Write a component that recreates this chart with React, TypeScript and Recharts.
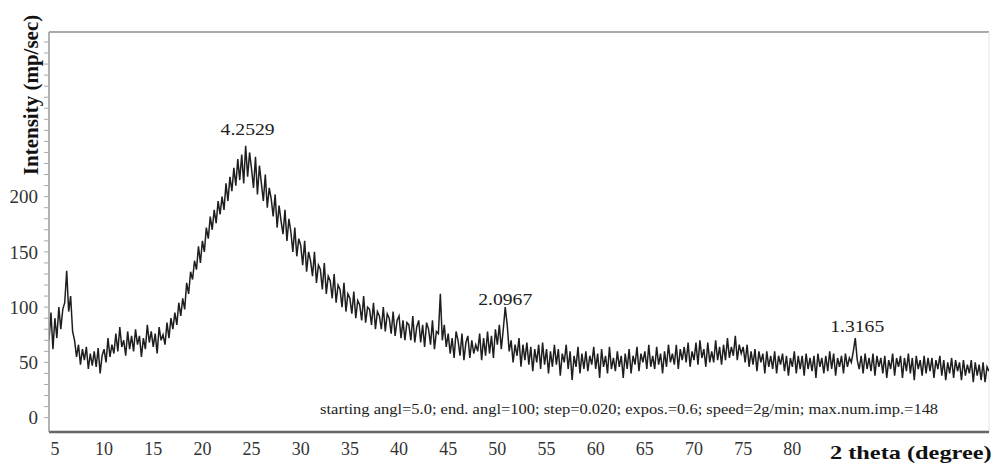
import React from 'react';
import { LineChart, Line, XAxis, YAxis, ReferenceLine, ReferenceDot } from 'recharts';

// 2-theta grid of the readings (degrees)
const startAngle = 4.4;
const stepAngle = 0.2;

// intensity (mp/sec), 5 readings per degree
const intensity: number[] = [
  // 4.4 – 4.8
  70, 95, 62,
  // 5 – 9.8
  90, 72, 100, 80, 98,
  104, 133, 96, 110, 78,
  70, 55, 66, 48, 62,
  52, 64, 44, 58, 47,
  60, 46, 63, 40, 56,
  // 10 – 14.8
  62, 50, 72, 55, 66,
  58, 76, 60, 82, 64,
  70, 56, 78, 62, 74,
  60, 80, 66, 74, 55,
  72, 62, 84, 68, 78,
  // 15 – 19.8
  64, 76, 58, 82, 70,
  75, 66, 86, 72, 90,
  80, 95, 84, 104, 92,
  108, 98, 122, 112, 132,
  125, 142, 134, 155, 140,
  // 20 – 24.8
  160, 150, 172, 162, 182,
  170, 188, 176, 196, 184,
  200, 188, 212, 196, 218,
  205, 226, 210, 234, 215,
  238, 212, 246, 218, 240,
  // 25 – 29.8
  225, 208, 236, 202, 228,
  212, 196, 220, 190, 208,
  198, 182, 202, 172, 192,
  178, 166, 188, 160, 180,
  168, 150, 172, 146, 162,
  // 30 – 34.8
  156, 138, 160, 132, 150,
  142, 128, 150, 122, 138,
  134, 116, 140, 112, 128,
  124, 108, 130, 104, 120,
  116, 100, 122, 96, 112,
  // 35 – 39.8
  108, 94, 114, 90, 106,
  102, 88, 110, 86, 100,
  98, 84, 104, 80, 96,
  92, 80, 100, 78, 94,
  90, 76, 96, 74, 88,
  // 40 – 44.8
  92, 72, 88, 70, 86,
  84, 70, 92, 68, 82,
  88, 68, 84, 64, 86,
  80, 66, 88, 62, 78,
  76, 112, 70, 84, 64,
  // 45 – 49.8
  76, 58, 72, 54, 78,
  70, 56, 76, 52, 68,
  74, 54, 70, 58, 66,
  60, 76, 52, 72, 56,
  78, 58, 74, 54, 80,
  // 50 – 54.8
  66, 84, 62, 80, 100,
  84, 60, 70, 50, 66,
  56, 72, 46, 66, 52,
  68, 48, 64, 42, 62,
  50, 66, 44, 68, 48,
  // 55 – 59.8
  62, 40, 60, 46, 66,
  48, 62, 38, 58, 50,
  66, 44, 60, 34, 56,
  46, 64, 40, 58, 44,
  60, 42, 56, 48, 64,
  // 60 – 64.8
  44, 58, 36, 62, 46,
  56, 40, 64, 44, 54,
  42, 60, 46, 56, 36,
  58, 44, 62, 40, 56,
  48, 64, 42, 58, 50,
  // 65 – 69.8
  60, 44, 66, 46, 56,
  44, 64, 48, 58, 40,
  60, 46, 66, 50, 58,
  48, 66, 44, 62, 52,
  64, 50, 68, 46, 60,
  // 70 – 74.8
  52, 68, 48, 70, 54,
  62, 46, 68, 50, 60,
  50, 70, 52, 64, 48,
  66, 52, 72, 54, 64,
  56, 74, 52, 66, 58,
  // 75 – 79.8
  64, 50, 66, 46, 60,
  48, 62, 42, 60, 50,
  58, 40, 60, 46, 56,
  44, 60, 40, 56, 48,
  58, 42, 56, 38, 54,
  // 80 – 84.8
  46, 60, 40, 56, 44,
  56, 38, 58, 44, 54,
  42, 56, 36, 58, 46,
  54, 40, 56, 42, 60,
  44, 58, 38, 54, 46,
  // 85 – 89.8
  56, 40, 58, 46, 54,
  50, 60, 72, 52, 44,
  56, 40, 58, 44, 54,
  42, 58, 38, 56, 46,
  54, 40, 56, 36, 52,
  // 90 – 94.8
  44, 58, 38, 54, 46,
  56, 36, 54, 42, 58,
  40, 54, 34, 56, 44,
  52, 38, 56, 40, 54,
  42, 54, 36, 52, 44,
  // 95 – 100
  56, 38, 52, 34, 50,
  40, 54, 36, 52, 42,
  50, 34, 52, 38, 48,
  40, 52, 32, 50, 38,
  48, 34, 50, 32, 46,
  42,
];

const xTicks = [5, 10, 15, 20, 25, 30, 35, 40, 45, 50, 55, 60, 65, 70, 75, 80];
const yLabels = [0, 50, 100, 150, 200];
const yMinorTicks = [0, 10, 20, 30, 40, 50, 60, 70, 80, 90, 100, 110, 120, 130, 140, 150, 160, 170,
  180, 190, 200, 210, 220, 230, 240, 250, 260, 270, 280, 290, 300, 310, 320, 330, 340];

// d-spacing labels over the peaks
const peakLabels = [
  { x: 24.6, y: 261, text: '4.2529' },
  { x: 50.8, y: 107, text: '2.0967' },
  { x: 86.6, y: 82, text: '1.3165' },
];

const scanInfo = 'starting angl=5.0; end. angl=100; step=0.020; expos.=0.6; speed=2g/min; max.num.imp.=148';

const data = intensity.map((v, i) => ({ theta: +(startAngle + i * stepAngle).toFixed(2), value: v }));

const serif = '"Liberation Serif", "Times New Roman", serif';

const makeLabel = (text: string, size: number, len: number) => (props: any) => {
  const { viewBox } = props;
  const cx = viewBox.x + viewBox.width / 2;
  const cy = viewBox.y + viewBox.height / 2;
  return (
    <text x={cx - len / 2} y={cy + size * 0.34} fontFamily={serif} fontSize={size} fill="#222"
      textLength={len} lengthAdjust="spacingAndGlyphs">
      {text}
    </text>
  );
};

const InfoLabel = makeLabel(scanInfo, 14, 618);

export default function App() {
  return (
    <div style={{ position: 'absolute', left: 0, top: 0, width: 994, height: 463, background: '#fff' }}>
      <LineChart width={994} height={463} data={data} margin={{ top: 32, right: 5, bottom: 0, left: 0 }}>
        <XAxis
          dataKey="theta"
          type="number"
          domain={[4.4, 100]}
          ticks={xTicks}
          interval={0}
          height={31}
          tickLine={false}
          tickMargin={4}
          axisLine={{ stroke: '#666', strokeWidth: 2.5 }}
          tick={{ fill: '#333', fontSize: 18, fontFamily: serif }}
          allowDataOverflow
        />
        <YAxis
          type="number"
          domain={[-13, 349]}
          ticks={yMinorTicks}
          interval={0}
          width={49}
          tickSize={5}
          tickMargin={6}
          tickLine={{ stroke: '#aaa' }}
          axisLine={{ stroke: '#999', strokeWidth: 1.5 }}
          tickFormatter={(v: number) => (yLabels.includes(v) ? String(v) : '')}
          tick={{ fill: '#333', fontSize: 19, fontFamily: serif }}
          allowDataOverflow
        />
        <ReferenceLine y={349} stroke="#aaa" strokeWidth={2} />
        <ReferenceLine x={100} stroke="#e4e4e4" strokeWidth={1} />
        <Line
          type="linear"
          dataKey="value"
          stroke="#1e1e1e"
          strokeWidth={1.5}
          dot={false}
          isAnimationActive={false}
        />
        {peakLabels.map((p) => {
          const PeakLabel = makeLabel(p.text, 16, 54);
          return (
            <ReferenceDot key={p.text} x={p.x} y={p.y} r={1} fill="none" stroke="none" label={<PeakLabel />} />
          );
        })}
        <ReferenceDot x={63.4} y={8} r={1} fill="none" stroke="none" label={<InfoLabel />} />
      </LineChart>
      <div
        style={{
          position: 'absolute',
          left: 31,
          top: 95,
          transform: 'translate(-50%, -50%) rotate(-90deg)',
          whiteSpace: 'nowrap',
          fontFamily: serif,
          fontWeight: 'bold',
          fontSize: 21,
          color: '#111',
        }}
      >
        Intensity (mp/sec)
      </div>
      <div
        style={{
          position: 'absolute',
          left: 830,
          top: 442,
          whiteSpace: 'nowrap',
          fontFamily: serif,
          fontWeight: 'bold',
          fontSize: 19,
          color: '#111',
          transform: 'scaleX(1.28)',
          transformOrigin: 'left center',
        }}
      >
        2 theta (degree)
      </div>
    </div>
  );
}
